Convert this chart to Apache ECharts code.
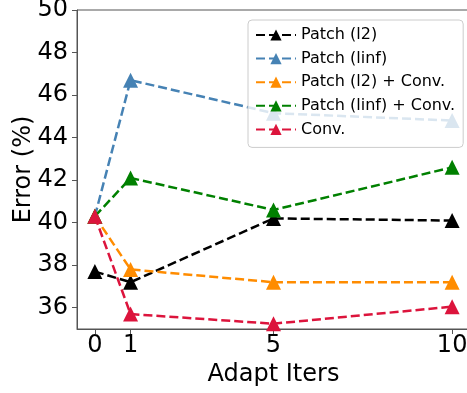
<!DOCTYPE html>
<html><head><meta charset="utf-8">
<script src="https://cdn.jsdelivr.net/npm/echarts@6/dist/echarts.min.js"></script>
<style>html,body{margin:0;padding:0;background:#fff}#c{width:467px;height:393px}</style>
</head><body><div id="c"></div>
<script>
const iters = [0, 1, 5, 10];
const xTicks = [0, 1, 5, 10];
const yTicks = [36, 38, 40, 42, 44, 46, 48, 50];
const names = ['Patch (l2)', 'Patch (linf)', 'Patch (l2) + Conv.', 'Patch (linf) + Conv.', 'Conv.'];
const colors = ['#000000', '#4682b4', '#ff8c00', '#008000', '#dc143c'];
const patchL2 = [37.7, 37.2, 40.2, 40.1];
const patchLinf = [40.3, 46.7, 45.15, 44.8];
const patchL2Conv = [40.3, 37.8, 37.2, 37.2];
const patchLinfConv = [40.3, 42.1, 40.6, 42.6];
const conv = [40.3, 35.7, 35.25, 36.05];
const allData = [patchL2, patchLinf, patchL2Conv, patchLinfConv, conv];

const font = 'DejaVu Sans';
const chart = echarts.init(document.getElementById('c'));
chart.setOption({
  animation: false,
  grid: {left: 77, top: 10, bottom: 64, right: -3, outerBoundsMode: 'none', show: true, borderColor: '#555', borderWidth: 1, containLabel: false},
  xAxis: {
    type: 'value', min: -0.5, max: 10.5,
    name: 'Adapt Iters', nameLocation: 'middle', nameGap: 34, nameMoveOverlap: false,
    nameTextStyle: {fontFamily: font, fontSize: 24, color: '#000'},
    axisLine: {show: true, onZero: false, lineStyle: {color: '#555', width: 1}},
    axisTick: {show: true, length: 5, lineStyle: {color: '#555'}, customValues: xTicks},
    axisLabel: {fontFamily: font, fontSize: 24, color: '#000', margin: 5, customValues: xTicks},
    splitLine: {show: false}
  },
  yAxis: {
    type: 'value', min: 35, max: 50,
    name: 'Error (%)', nameLocation: 'middle', nameGap: 41, nameRotate: 90, nameMoveOverlap: false,
    nameTextStyle: {fontFamily: font, fontSize: 24, color: '#000'},
    axisLine: {show: true, onZero: false, lineStyle: {color: '#555', width: 1}},
    axisTick: {show: true, length: 5, lineStyle: {color: '#555'}, customValues: yTicks},
    axisLabel: {fontFamily: font, fontSize: 24, color: '#000', margin: 9, customValues: yTicks},
    splitLine: {show: false}
  },
  legend: {
    orient: 'vertical', left: 248, top: 20,
    padding: [7, 8, 10, 7], itemGap: 7.6, itemWidth: 40, itemHeight: 14,
    backgroundColor: 'rgba(255,255,255,0.8)', borderColor: '#ccc', borderWidth: 1, borderRadius: 4,
    textStyle: {fontFamily: font, fontSize: 16, color: '#000'},
    data: names
  },
  series: names.map((n, i) => ({
    name: n, type: 'line',
    data: iters.map((x, j) => [x, allData[i][j]]),
    symbol: 'triangle', symbolSize: 15,
    itemStyle: {color: colors[i]},
    lineStyle: {color: colors[i], width: 2.5, type: [9, 4]},
    z: 2 + i
  }))
});
</script></body></html>
